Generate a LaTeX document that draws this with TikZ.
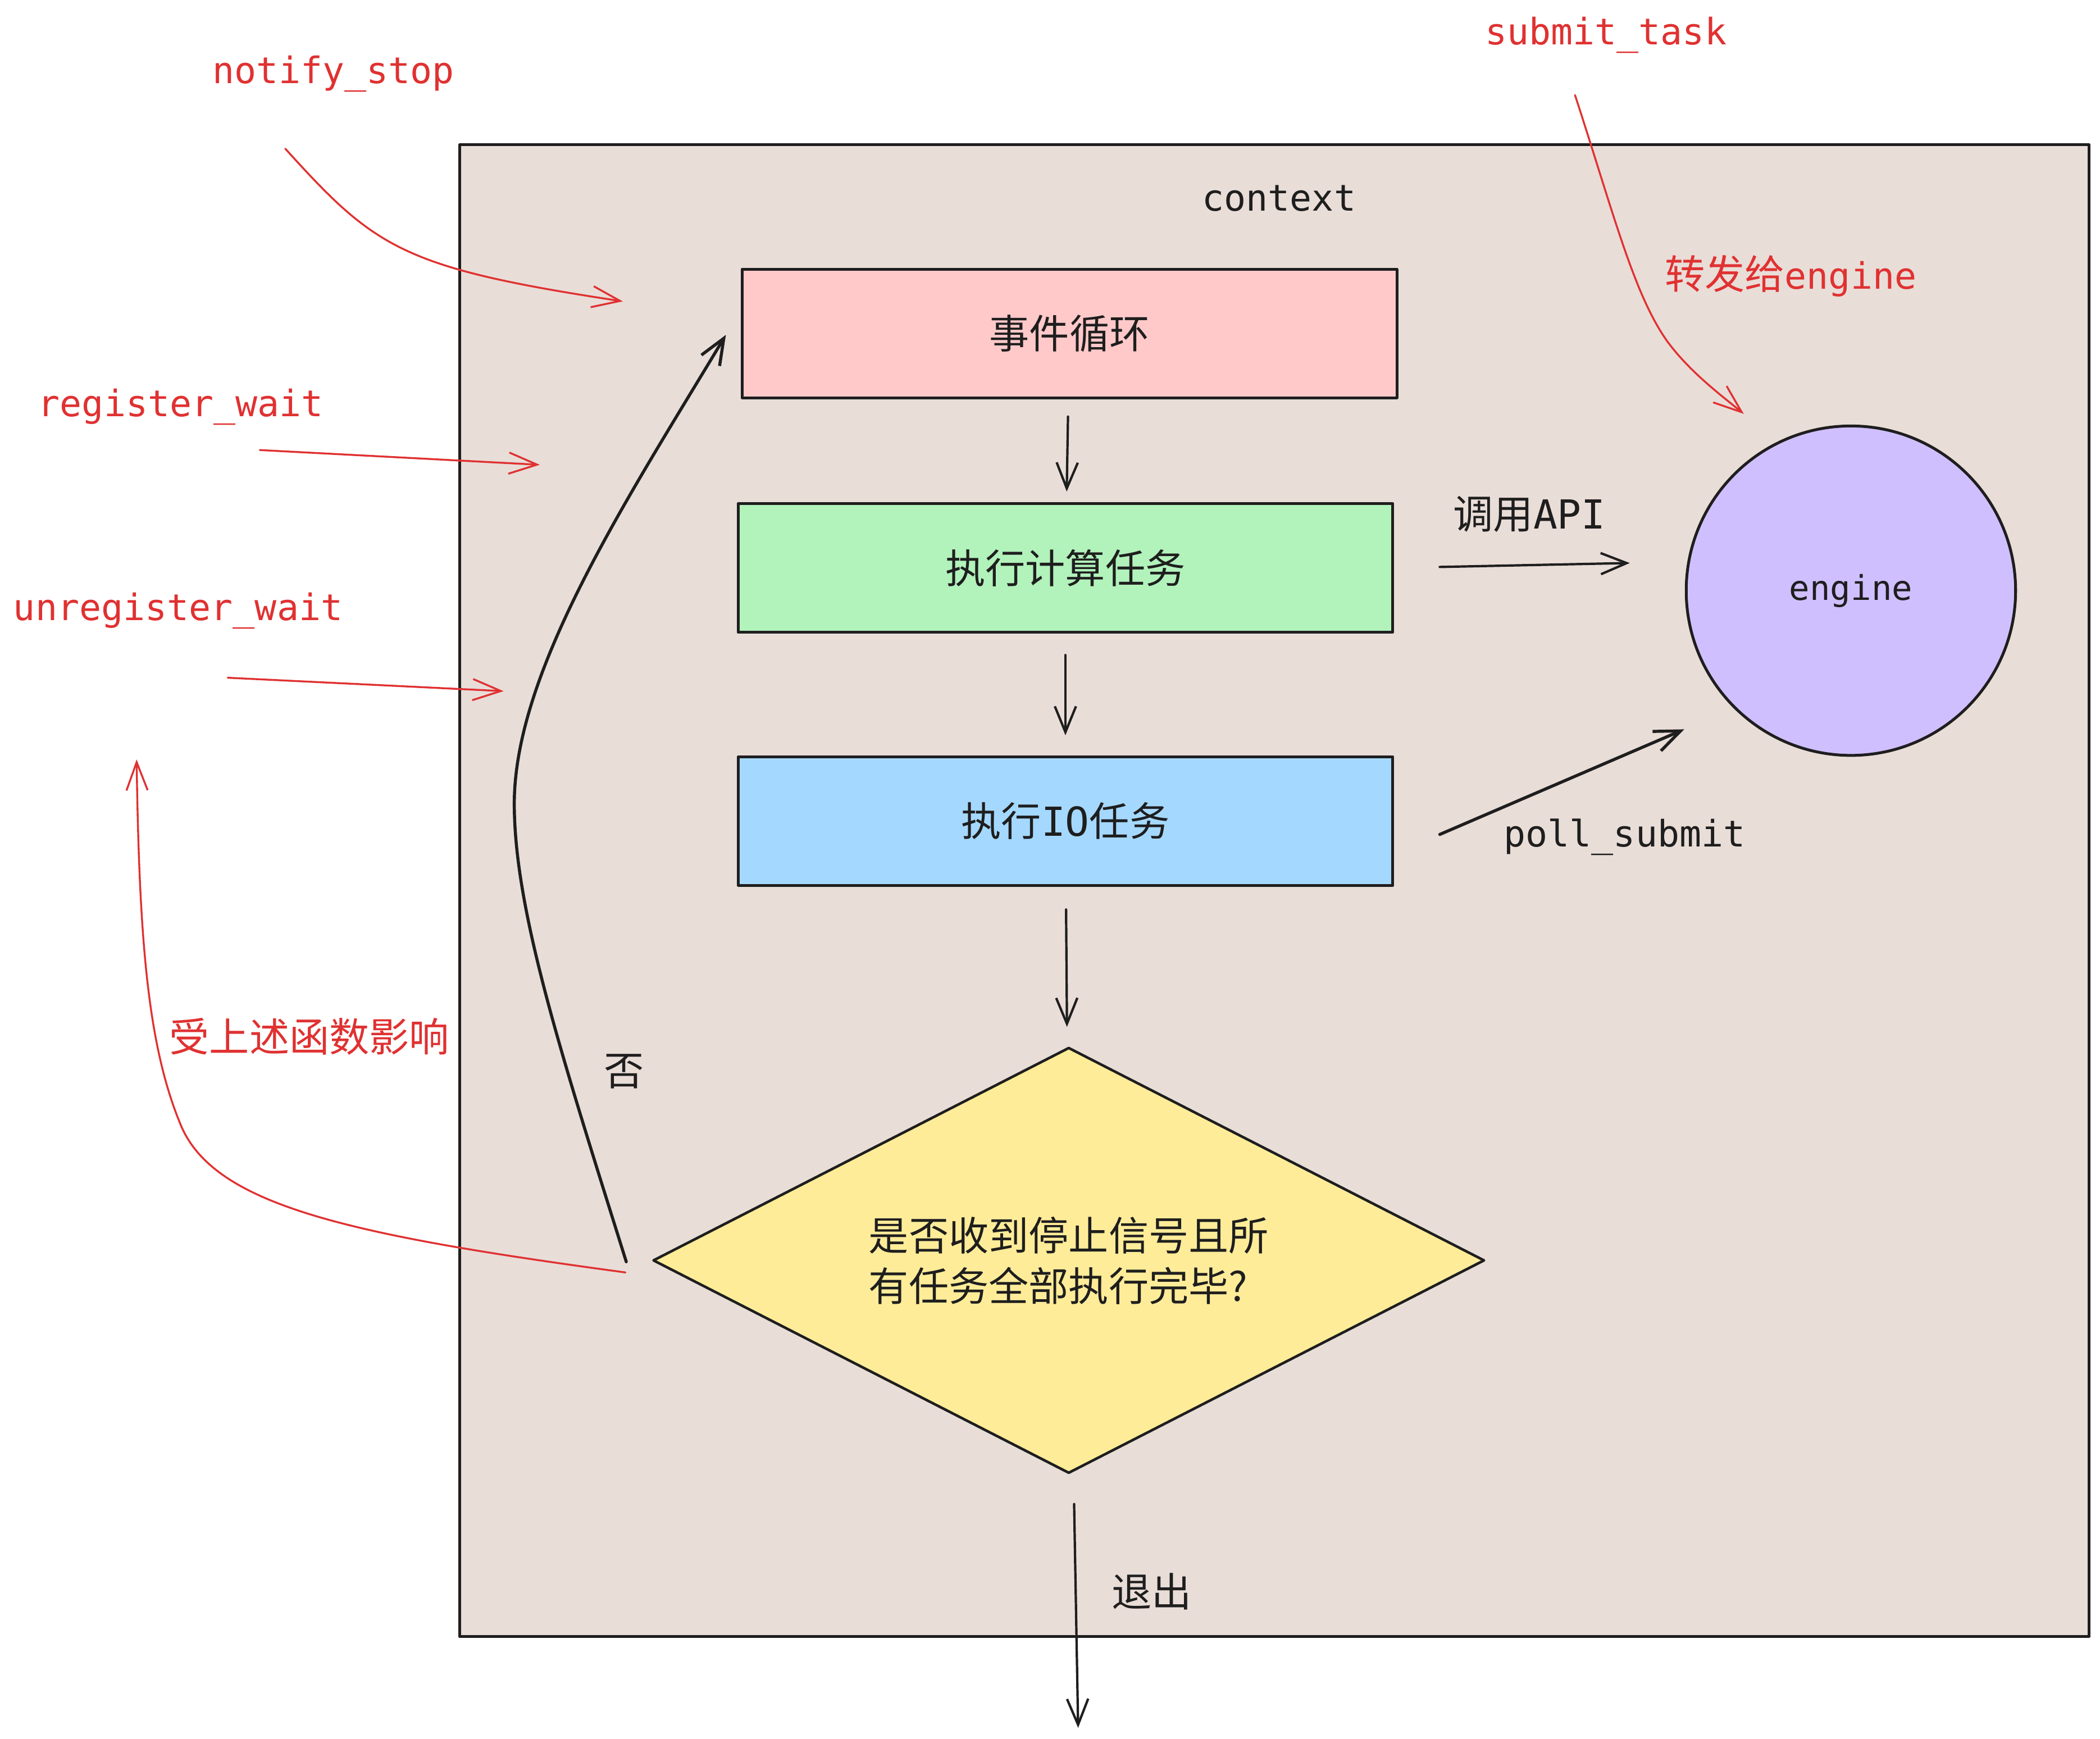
\documentclass[tikz,border=0pt]{standalone}
\usepackage{fontspec}
\setmonofont{DejaVu Sans Mono}
\newfontfamily\cjk{Noto Sans CJK SC}
\usepackage{xcolor}
\usetikzlibrary{arrows.meta}
\usetikzlibrary{shapes.geometric}
\usetikzlibrary{positioning, calc}

\definecolor{ink}{HTML}{1E1E1E}
\definecolor{notered}{HTML}{E03131}
\definecolor{ctxfill}{HTML}{E9DDD8}
\definecolor{loopfill}{HTML}{FFC9C9}
\definecolor{cpufill}{HTML}{B2F2BB}
\definecolor{iofill}{HTML}{A5D8FF}
\definecolor{checkfill}{HTML}{FFEC99}
\definecolor{enginefill}{HTML}{D0BFFF}

\begin{document}
\begin{tikzpicture}[x=0.02cm, y=-0.02cm, line cap=round, line join=round,
    stepbox/.style={draw=ink, line width=1.2pt, minimum width=9.78cm, minimum height=1.92cm,
      inner sep=0, text=ink, font=\cjk\fontsize{17}{20}\selectfont},
    flow/.style={ink, line width=1pt, -{Straight Barb[length=11pt, width=9pt]}},
    note/.style={notered, line width=0.8pt, -{Straight Barb[length=12pt, width=9pt]}},
    code/.style={text=notered, font=\ttfamily\fontsize{15.5}{18}\selectfont},
    redtag/.style={text=notered, font=\cjk\fontsize{17}{20}\selectfont},
    tag/.style={text=ink, font=\cjk\fontsize{17}{20}\selectfont},
    mono/.style={text=ink, font=\ttfamily\fontsize{15.5}{18}\selectfont}]
  \useasboundingbox (0,0) rectangle (1568,1298.3);

  % context frame
  \node[draw=ink, fill=ctxfill, line width=1.1pt, minimum width=24.34cm, minimum height=22.28cm, inner sep=0] (ctx) at (951.5,665) {};
  \node[mono] (ctxname) at (955,148) {context};

  % main loop
  \node[stepbox, fill=loopfill] (loop) at (798.5,249) {事件循环};
  \node[stepbox, fill=cpufill] (compute) at (795.5,424) {执行计算任务};
  \node[stepbox, fill=iofill] (io) at (795.5,613) {执行{\ttfamily IO}任务};
  \node[diamond, draw=ink, fill=checkfill, line width=1.1pt, aspect=1.95, inner sep=0,
    minimum width=12.42cm, minimum height=6.36cm, align=left, text=ink,
    font=\cjk\fontsize{17}{21.5}\selectfont] (check) at (798,941) {是否收到停止信号且所\\有任务全部执行完毕?};
  \node[circle, draw=ink, fill=enginefill, line width=1.2pt, minimum size=4.92cm, inner sep=0,
    text=ink, font=\ttfamily\fontsize{14.5}{17}\selectfont] (engine) at (1382,441) {engine};

  \draw[flow, shorten <=0.26cm, shorten >=0.16cm] (loop) -- (compute);
  \draw[flow, shorten <=0.32cm, shorten >=0.3cm] (compute) -- (io);
  \draw[flow, shorten <=0.34cm, shorten >=0.3cm] (io) -- (check);
  \coordinate (exit) at (805,1290);
  \draw[flow] ([shift={(4,22)}]check.south) -- (exit);
  \node[tag] (quit) at (860,1188) {退出};

  % back to the loop
  \draw[flow, line width=1.3pt] ([shift={(-19,1)}]check.west) .. controls (420,790) and (384,680) .. (384,600)
    .. controls (384,500) and (470,370) .. ([shift={(-11,1)}]loop.west);
  \node[tag] (no) at (466,800) {否};

  % calls into the engine
  \draw[flow, shorten <=0.68cm, shorten >=0.86cm] (compute.east) -- (engine.170);
  \node[tag] (callapi) at (1142,384) {调用{\ttfamily API}};
  \draw[flow, line width=1.3pt, shorten >=0.8cm] ([shift={(34,10)}]io.east) -- (engine.225);
  \node[mono] (poll) at (1213,625) {poll\_submit};

  % outside calls
  \node[code] (stop) at (249,55) {notify\_stop};
  \coordinate (stopA) at (213,111);
  \coordinate (stopB) at (465,225);
  \draw[note] (stopA) .. controls (280,185) and (300,200) .. (stopB);

  \node[code] (reg) at (135,304) {register\_wait};
  \coordinate (regA) at (194,336);
  \coordinate (regB) at (403,347);
  \draw[note] (regA) -- (regB);

  \node[code] (unreg) at (133,456) {unregister\_wait};
  \coordinate (unregA) at (170,506);
  \coordinate (unregB) at (376,516);
  \draw[note] (unregA) -- (unregB);

  \coordinate (affectA) at (467,950);
  \coordinate (affectB) at (102,567);
  \draw[note] (affectA) .. controls (260,922) and (160,900) .. (135,840)
    .. controls (110,780) and (104,700) .. (affectB);
  \node[redtag] (affect) at (231,774) {受上述函数影响};

  \node[code] (submit) at (1199,26) {submit\_task};
  \coordinate (submitA) at (1176,71);
  \coordinate (submitB) at (1302,309);
  \draw[note] (submitA) .. controls (1205,160) and (1220,220) .. (1245,255)
    .. controls (1262,278) and (1285,295) .. (submitB);
  \node[redtag] (forward) at (1337,206) {转发给{\ttfamily\fontsize{15.5}{18}\selectfont engine}};
\end{tikzpicture}
\end{document}
